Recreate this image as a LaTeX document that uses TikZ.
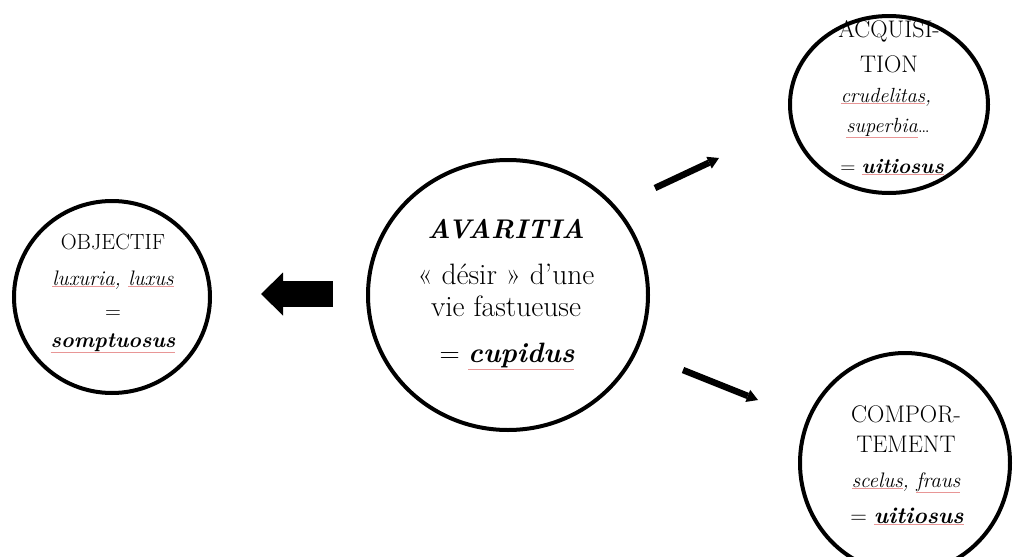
\documentclass[tikz,border=0pt]{standalone}
\usetikzlibrary{shapes.geometric,arrows.meta}
\usepackage{xcolor}
\definecolor{sqcol}{RGB}{232,150,150}
\newcommand\sqw[1]{{\color{sqcol}\underline{\color{black}#1}}}
\newcommand\fsz[1]{\fontsize{#1}{#1}\selectfont}
\begin{document}
\begin{tikzpicture}[x=1pt,y=-1pt,
  bub/.style={ellipse,draw,line width=4pt,inner sep=0pt},
  txt/.style={anchor=base,inner sep=0pt},
  thinarrow/.style={line width=6.5pt,-{Triangle[length=11pt,width=13pt,line width=0pt]}},
  blockarrow/.style={line width=26pt,-{Triangle[length=22pt,width=43pt,line width=0pt]}}]
\useasboundingbox (0,0) rectangle (1013,557);
\clip (0,0) rectangle (1013,557);
% circles
\node[bub,minimum width=196pt,minimum height=192pt] (obj) at (112,297) {};
\node[bub,minimum width=280pt,minimum height=270pt] (ava) at (508,295) {};
\node[bub,minimum width=198pt,minimum height=177pt] (acq) at (889,104.5) {};
\node[bub,minimum width=210pt,minimum height=220pt] (cmp) at (905,463) {};
% left texts
\node[txt,font=\fsz{22}] (o1) at (113,249) {OBJECTIF};
\node[txt,font=\fsz{21}\itshape] (o2) at (113,285) {\sqw{luxuria}, \sqw{luxus}};
\node[txt,font=\fsz{22}] (o3) at (113,318) {=};
\node[txt,font=\fsz{21.5}\bfseries\itshape] (o4) at (113,347) {\sqw{somptuosus}};
% centre texts
\node[txt,font=\fsz{27}\bfseries\itshape] (a1) at (506,238) {AVARITIA};
\node[txt,font=\fsz{29.5}] (a2) at (506,284) {« désir » d’une};
\node[txt,font=\fsz{29.5}] (a3) at (506,316) {vie fastueuse};
\node[txt,font=\fsz{28}] (a4) at (507,362) {= {\bfseries\itshape\sqw{cupidus}}};
% top right texts
\node[txt,font=\fsz{24}] (q1) at (889,37) {ACQUISI-};
\node[txt,font=\fsz{24}] (q2) at (889,72) {TION};
\node[txt,font=\fsz{20.5}] (q3) at (886,102) {\itshape\sqw{crudelitas},};
\node[txt,font=\fsz{20.5}] (q4) at (888,132) {{\itshape\sqw{superbia}}…};
\node[txt,font=\fsz{21}] (q5) at (892,173) {= {\bfseries\itshape\sqw{uitiosus}}};
% bottom right texts
\node[txt,font=\fsz{24}] (c1) at (906,422) {COMPOR-};
\node[txt,font=\fsz{24}] (c2) at (906,452) {TEMENT};
\node[txt,font=\fsz{21}\itshape] (c3) at (906,487) {\sqw{scelus}, \sqw{fraus}};
\node[txt,font=\fsz{23}] (c4) at (907,523) {= {\bfseries\itshape\sqw{uitiosus}}};
% connectors
\coordinate (bs) at (333,294);
\coordinate (be) at (261,294);
\draw[blockarrow] (bs) -- (be);
\coordinate (us) at (655,188);
\coordinate (ue) at (719,158);
\draw[thinarrow] (us) -- (ue);
\coordinate (ls) at (683,370);
\coordinate (le) at (758,400);
\draw[thinarrow] (ls) -- (le);
\end{tikzpicture}
\end{document}
